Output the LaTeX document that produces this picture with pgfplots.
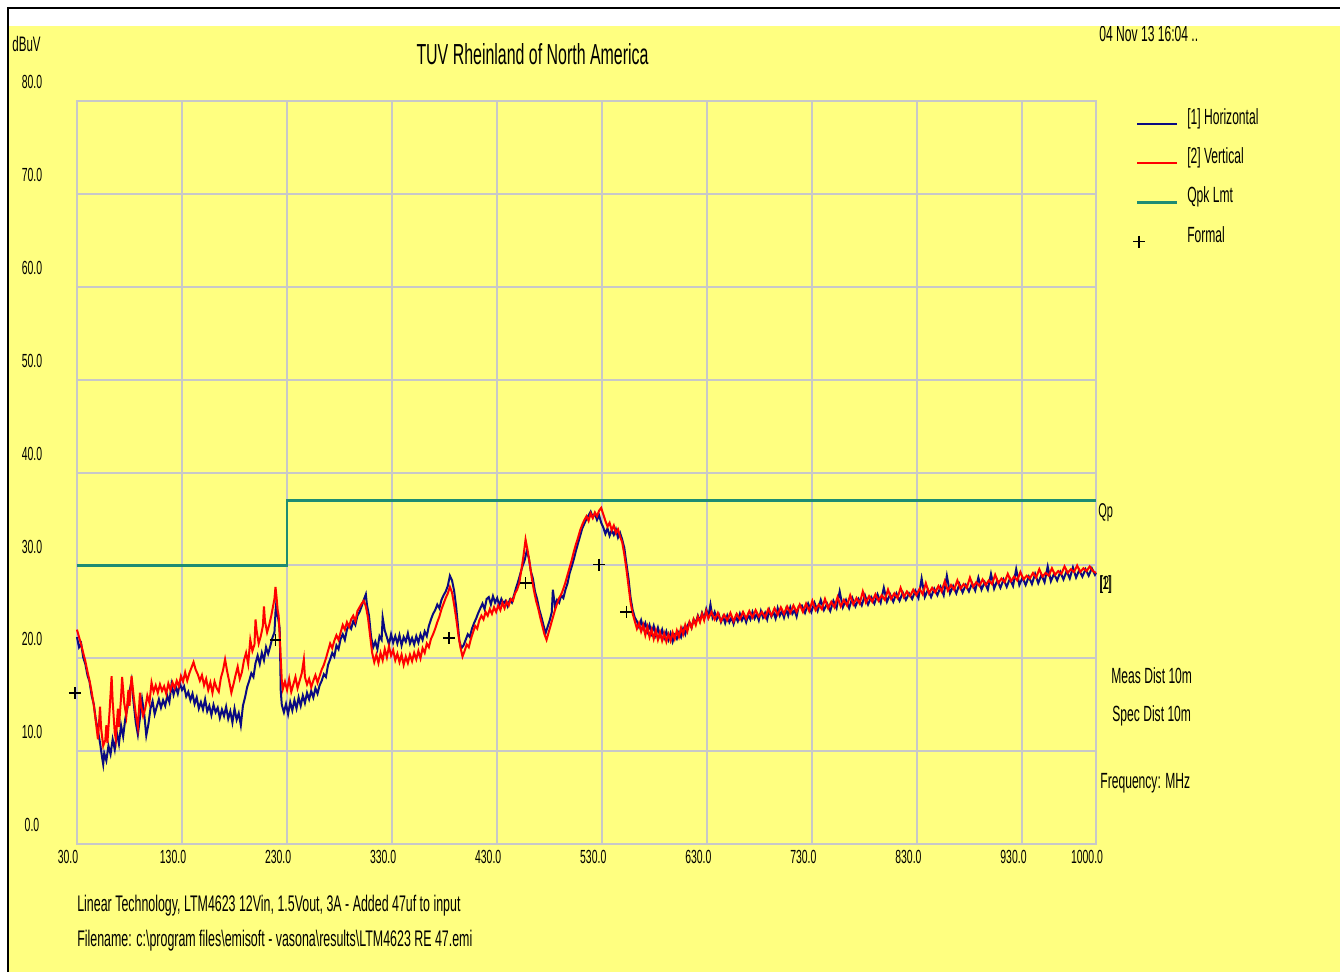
\documentclass[border=0pt]{standalone}
\usepackage{fontspec}
\setmainfont{Liberation Sans}[FakeStretch=0.55]
\usepackage{pgfplots}
\pgfplotsset{compat=1.18}
\definecolor{bgyellow}{RGB}{255,255,128}
\definecolor{hblue}{RGB}{10,10,130}
\definecolor{vred}{RGB}{255,0,0}
\definecolor{lmt}{RGB}{30,140,115}
\definecolor{gridgray}{RGB}{200,200,200}
\newcommand{\fs}[1]{\fontsize{#1}{#1}\selectfont}
\pgfplotsset{formal legend/.style={legend image code/.code={\draw[##1] plot coordinates {(1pt,-3pt)};}}}
\begin{document}
\begin{tikzpicture}
\fill[white] (0,0) rectangle (670.5pt,486.5pt);
\fill[bgyellow] (4.5pt,0) rectangle (670.5pt,473.5pt);
\node[anchor=west,font=\fs{11},inner sep=0pt] at (550pt,469.5pt) {04 Nov 13 16:04 ..};
\fill[white] (4.5pt,473.5pt) rectangle (670.5pt,482pt);
\draw[black,line width=1.2pt] (4pt,0) -- (4pt,482.5pt) -- (670.5pt,482.5pt);
\node[font=\fs{14.5}] at (266.5pt,459.5pt) {TUV Rheinland of North America};
\node[anchor=west,font=\fs{10.5},inner sep=0pt] at (6pt,464.5pt) {dBuV};
\node[anchor=west,font=\fs{10},inner sep=0pt] at (549.5pt,230pt) {Qp};
\node[anchor=west,font=\fs{9.5},inner sep=0pt] at (550pt,194pt) {[1]};
\node[anchor=west,font=\fs{9.5},inner sep=0pt] at (550.5pt,194pt) {[2]};
\node[anchor=west,font=\fs{11},inner sep=0pt] at (556pt,148.5pt) {Meas Dist 10m};
\node[anchor=west,font=\fs{11},inner sep=0pt] at (556.5pt,128.5pt) {Spec Dist 10m};
\node[anchor=west,font=\fs{11},inner sep=0pt] at (550.5pt,94.5pt) {Frequency: MHz};
\node[anchor=west,font=\fs{11.3},inner sep=0pt] at (38.5pt,33.5pt) {Linear Technology, LTM4623 12Vin, 1.5Vout, 3A - Added 47uf to input};
\node[anchor=west,font=\fs{11.3},inner sep=0pt] at (38.5pt,15.5pt) {Filename: c:\textbackslash program files\textbackslash emisoft - vasona\textbackslash results\textbackslash LTM4623 RE 47.emi};
\begin{axis}[
  at={(38.5pt,64pt)}, anchor=south west,
  scale only axis, width=510pt, height=372pt,
  xmin=30, xmax=1000, ymin=0, ymax=80,
  xtick={30,130,230,330,430,530,630,730,830,930,1000},
  xticklabels={30.0,130.0,230.0,330.0,430.0,530.0,630.0,730.0,830.0,930.0,1000.0},
  ytick={0,10,20,30,40,50,60,70,80},
  yticklabels={0.0,10.0,20.0,30.0,40.0,50.0,60.0,70.0,80.0},
  grid=major,
  major grid style={draw=gridgray, line width=1pt},
  axis line style={draw=gridgray, line width=1pt},
  major tick length=0pt,
  tick label style={font=\fs{9.5}},
  xticklabel style={anchor=center, yshift=-6.5pt, xshift=-4.5pt},
  yticklabel style={anchor=center, xshift=-22.5pt, yshift=9.5pt},
  clip=false,
  legend style={at={(1.036,0.996)}, anchor=north west, draw=none, fill=none, font=\fs{11}, row sep=6.2pt, inner sep=0pt, /tikz/every odd column/.append style={column sep=2.5pt}},
  legend cell align=left,
  legend image code/.code={\draw[mark repeat=2,mark phase=2,#1] plot coordinates {(0pt,-3pt)(10pt,-3pt)(20pt,-3pt)};},
]
\addplot[hblue, line width=1pt] coordinates {
(30,22.3)(32,21.2)(34,21.6)(36,20.1)(38,19.4)(40,18.2)(42,17.5)(44,16.0)(46,15.1)(48,13.4)(50,12.2)(52,10.9)(54,9.3)(55,8.6)(56,9.8)(58,9.0)(60,10.6)(62,9.7)(64,11.3)(66,10.2)(68,12.0)(70,10.8)(72,12.8)(74,11.6)(76,13.5)(78,14.6)(80,16.4)(82,17.6)(84,15.2)(86,13.1)(88,11.8)(90,13.6)(92,15.6)(94,14.1)(96,11.7)(98,12.9)(100,14.6)(102,15.4)(104,14.0)(106,14.8)(108,15.6)(110,14.7)(112,15.5)(114,14.9)(116,16.0)(118,15.3)(120,17.2)(122,16.1)(124,17.0)(126,16.2)(128,17.3)(130,16.6)(132,17.0)(134,15.9)(136,16.4)(138,15.5)(140,16.2)(142,15.1)(144,15.8)(146,14.6)(148,15.3)(150,14.5)(152,15.6)(154,14.3)(156,14.9)(158,13.9)(160,15.0)(162,14.2)(164,14.7)(166,13.6)(168,14.5)(170,13.8)(172,14.8)(174,13.5)(176,14.3)(178,13.1)(180,14.6)(182,13.4)(184,14.1)(186,12.8)(188,14.9)(190,15.8)(192,16.9)(194,17.6)(196,18.4)(198,18.0)(200,19.5)(202,20.3)(204,19.4)(206,20.6)(208,19.8)(210,21.2)(212,20.5)(214,21.3)(216,22.2)(218,22.8)(219,25.0)(220,26.3)(221,24.6)(222,24.0)(223,23.2)(224,16.5)(225,15.0)(227,14.2)(229,15.1)(231,14.0)(233,15.3)(235,14.4)(237,15.5)(239,14.6)(241,15.8)(243,14.9)(245,16.0)(247,15.2)(249,16.3)(251,15.6)(253,16.5)(255,15.8)(257,16.8)(259,16.2)(261,17.1)(263,17.6)(265,18.3)(267,18.0)(269,19.3)(271,19.9)(273,20.6)(275,20.2)(277,21.4)(279,21.0)(281,22.1)(283,22.6)(285,22.0)(287,23.1)(289,23.6)(291,23.2)(293,24.0)(295,23.6)(297,24.6)(299,25.0)(301,25.6)(303,26.3)(305,26.9)(306,25.8)(308,24.6)(310,22.3)(312,21.2)(314,21.8)(316,21.0)(318,22.4)(320,22.0)(321,24.4)(323,23.0)(325,22.3)(327,21.5)(329,22.6)(331,21.7)(333,22.4)(335,21.6)(337,22.5)(339,21.4)(341,22.3)(343,21.8)(345,22.7)(347,21.6)(349,22.2)(351,21.5)(353,22.4)(355,21.7)(357,22.6)(359,22.0)(361,22.9)(363,22.4)(365,23.5)(367,24.2)(369,24.8)(371,25.2)(373,25.8)(375,25.4)(377,26.3)(379,26.8)(381,27.2)(383,27.8)(385,28.9)(387,28.4)(389,27.3)(391,25.5)(392,24.3)(394,21.9)(396,21.1)(398,21.4)(400,22.0)(402,22.6)(404,22.3)(406,23.2)(408,23.8)(410,24.3)(412,24.9)(414,25.4)(416,25.9)(418,25.3)(420,26.4)(422,26.6)(424,25.8)(426,26.7)(428,26.0)(430,26.5)(432,25.7)(434,26.4)(436,25.9)(438,26.2)(440,25.6)(442,26.3)(444,26.0)(446,26.8)(448,27.6)(450,28.3)(452,29.1)(454,29.9)(456,30.5)(458,31.5)(460,30.9)(462,29.4)(464,28.6)(466,27.2)(468,26.4)(470,25.3)(472,24.5)(474,23.6)(476,22.7)(478,23.4)(480,24.1)(482,25.0)(483,27.4)(485,25.6)(487,26.3)(489,26.0)(491,26.8)(493,26.5)(495,27.4)(497,28.1)(499,29.2)(501,29.9)(503,30.7)(505,31.6)(507,32.4)(509,33.2)(511,34.0)(513,34.5)(515,35.0)(517,35.4)(519,35.8)(521,35.2)(523,35.6)(525,34.9)(527,35.4)(529,34.6)(531,34.1)(533,33.4)(535,34.0)(537,33.2)(539,33.8)(541,33.3)(543,33.9)(545,33.0)(547,33.5)(549,32.8)(551,31.9)(553,30.2)(555,28.6)(557,26.5)(559,25.2)(561,24.4)(563,24.0)(565,23.4)(567,24.1)(569,23.2)(571,23.8)(573,22.9)(575,23.6)(577,22.7)(579,23.5)(581,22.5)(583,23.3)(585,22.4)(587,23.1)(589,22.2)(591,22.9)(593,22.0)(595,22.7)(597,21.8)(599,22.5)(601,22.1)(603,22.8)(605,22.3)(607,23.2)(609,22.6)(611,23.5)(613,23.9)(615,23.3)(617,24.2)(619,23.8)(621,24.6)(623,24.0)(625,24.9)(627,24.3)(629,25.3)(631,24.5)(633,25.8)(635,24.4)(637,25.0)(639,24.2)(641,24.7)(643,23.9)(645,24.5)(647,23.8)(649,24.6)(651,23.9)(653,24.4)(655,23.7)(657,24.5)(659,24.0)(661,24.8)(663,24.1)(665,24.6)(667,23.9)(669,24.7)(671,24.2)(673,25.0)(675,24.3)(677,24.8)(679,24.1)(681,25.1)(683,24.4)(685,24.9)(687,24.2)(689,25.2)(691,24.5)(693,25.0)(695,24.3)(697,25.4)(699,24.6)(701,25.1)(703,24.4)(705,25.3)(707,24.6)(709,25.5)(711,24.8)(713,25.2)(715,24.5)(717,25.6)
(720,25.7)(723,24.9)(726,25.9)(729,25.0)(732,26.0)(735,25.1)(738,26.3)(741,25.2)(744,25.9)(747,25.1)(750,26.2)(753,25.4)(756,27.2)(759,25.5)(762,26.3)(765,25.4)(768,26.5)(771,25.6)(774,26.4)(777,25.7)(780,26.8)(783,25.8)(786,26.6)(789,25.9)(792,26.9)(795,26.0)(798,27.6)(801,26.1)(804,26.9)(807,26.1)(810,27.0)(813,26.2)(816,27.1)(819,26.3)(822,27.0)(825,26.4)(828,27.3)(831,26.5)(834,28.6)(837,26.6)(840,27.4)(843,26.6)(846,27.5)(849,26.8)(852,27.7)(855,26.8)(858,28.9)(861,27.0)(864,27.8)(867,27.0)(870,28.0)(873,27.1)(876,27.9)(879,27.2)(882,28.1)(885,27.3)(888,28.7)(891,27.4)(894,28.2)(897,27.4)(900,29.1)(903,27.5)(906,28.4)(909,27.6)(912,28.5)(915,27.7)(918,28.6)(921,27.8)(924,29.6)(927,27.9)(930,28.7)(933,27.9)(936,28.8)(939,28.0)(942,29.1)(945,28.1)(948,29.0)(951,28.2)(954,29.9)(957,28.3)(960,29.1)(963,28.4)(966,29.3)(969,28.5)(972,29.4)(975,28.6)(978,29.8)(981,28.7)(984,29.5)(987,28.8)(990,29.6)(993,28.9)(996,29.7)(999,29.0)(1000,29.2)
};
\addlegendentry{[1] Horizontal}
\addplot[vred, line width=1pt] coordinates {
(30,23.1)(32,22.3)(34,21.5)(36,20.6)(38,19.7)(40,18.6)(42,17.6)(44,16.4)(46,15.0)(48,13.2)(50,11.3)(51,13.0)(52,14.8)(53,12.5)(55,10.6)(57,11.2)(58,12.8)(59,10.9)(61,14.2)(63,18.1)(64,15.4)(66,12.0)(67,11.3)(69,14.6)(70,12.6)(72,15.8)(73,18.0)(75,15.2)(77,13.8)(79,16.6)(80,14.9)(82,18.1)(84,15.9)(86,14.0)(88,12.6)(90,16.3)(91,15.0)(93,13.8)(95,14.6)(97,16.0)(99,15.2)(101,17.4)(103,16.4)(105,17.1)(107,16.3)(109,17.2)(111,16.5)(113,17.0)(115,16.2)(117,17.3)(119,16.6)(121,17.4)(123,16.8)(125,17.6)(127,17.0)(129,18.1)(131,17.5)(133,18.5)(135,17.6)(137,18.4)(139,19.0)(141,19.6)(143,18.8)(145,18.3)(147,17.6)(149,18.2)(151,17.1)(153,17.8)(155,16.6)(157,17.4)(159,16.3)(161,17.5)(163,16.8)(165,16.4)(167,17.9)(169,18.7)(171,19.9)(173,18.6)(175,17.5)(177,16.3)(179,17.2)(181,18.2)(183,19.1)(185,17.8)(187,18.5)(189,19.8)(191,20.6)(193,19.4)(195,22.0)(197,20.8)(199,21.5)(200,24.2)(201,23.0)(203,21.6)(205,22.4)(207,23.5)(208,25.6)(209,24.0)(211,22.8)(213,23.6)(215,24.6)(217,25.8)(218,26.4)(219,27.7)(220,26.6)(221,25.2)(222,24.6)(223,22.4)(224,20.0)(225,17.6)(226,16.7)(228,17.5)(230,16.6)(232,17.8)(234,16.4)(236,17.2)(238,18.0)(240,16.8)(242,17.6)(244,18.4)(246,19.9)(247,18.0)(249,17.2)(251,17.8)(253,16.9)(255,17.6)(257,18.2)(259,17.4)(261,18.1)(263,18.8)(265,19.3)(267,20.0)(269,20.8)(271,21.6)(273,21.1)(275,21.9)(277,22.5)(279,22.0)(281,22.8)(283,23.6)(285,23.1)(287,23.9)(289,23.4)(291,24.2)(293,24.6)(295,24.0)(297,25.1)(299,25.5)(301,25.9)(303,26.2)(305,25.6)(307,24.4)(309,22.5)(311,20.6)(313,19.6)(315,20.4)(317,19.5)(319,20.6)(321,19.8)(323,21.0)(325,20.1)(327,21.3)(329,20.3)(331,20.9)(333,19.8)(335,20.5)(337,19.6)(339,20.4)(341,19.3)(343,20.2)(345,19.5)(347,20.4)(349,19.7)(351,20.6)(353,19.9)(355,20.8)(357,20.0)(359,21.1)(361,20.6)(363,21.6)(365,21.2)(367,22.1)(369,22.6)(371,23.2)(373,23.9)(375,24.5)(377,25.3)(379,25.9)(381,26.5)(383,27.0)(385,27.7)(387,27.1)(389,25.8)(391,24.3)(393,22.6)(395,21.2)(397,20.2)(399,20.8)(401,21.5)(403,21.2)(405,22.1)(407,22.8)(409,23.5)(411,23.2)(413,24.1)(415,24.6)(417,24.2)(419,25.0)(421,24.6)(423,25.3)(425,24.8)(427,25.5)(429,25.0)(431,25.7)(433,25.2)(435,26.0)(437,25.4)(439,26.1)(441,25.7)(443,26.4)(445,26.2)(447,27.0)(449,27.4)(451,28.1)(453,29.5)(455,31.0)(457,32.8)(459,31.6)(461,30.2)(463,28.6)(465,27.3)(467,26.2)(469,25.4)(471,24.4)(473,23.5)(475,22.6)(477,22.0)(479,22.8)(481,23.6)(483,24.4)(485,25.2)(487,25.9)(489,26.5)(491,26.9)(493,27.5)(495,28.2)(497,29.0)(499,29.8)(501,30.6)(503,31.5)(505,32.3)(507,33.0)(509,33.8)(511,34.4)(513,34.9)(515,35.3)(517,34.8)(519,35.6)(521,35.1)(523,35.7)(525,35.3)(527,35.9)(529,36.2)(531,35.5)(533,34.8)(535,34.2)(537,34.6)(539,33.8)(541,34.3)(543,33.5)(545,33.9)(547,33.1)(549,32.5)(551,31.2)(553,29.6)(555,27.8)(557,26.0)(559,24.8)
(561,24.0)(563,23.2)(565,23.8)(567,22.9)(569,23.6)(571,22.5)(573,23.4)(575,22.3)(577,23.1)(579,22.1)(581,23.0)(583,22.0)(585,22.8)(587,21.9)(589,22.7)(591,21.8)(593,22.6)(595,21.9)(597,22.8)(599,22.1)(601,23.0)(603,22.3)(605,23.3)(607,22.6)(609,23.6)(611,22.9)(613,23.9)(615,23.3)(617,24.2)(619,23.6)(621,24.5)(623,23.9)(625,24.8)(627,24.1)(629,25.1)(631,24.3)(634,25.0)(637,24.2)(640,24.9)(643,24.0)(646,24.7)(649,24.1)(652,24.9)(655,24.0)(658,24.8)(661,24.2)(664,25.0)(667,24.3)(670,25.1)(673,24.4)(676,25.2)(679,24.5)(682,25.0)(685,24.4)(688,25.3)(691,24.6)(694,25.4)(697,24.7)(700,25.5)(703,24.8)(706,25.6)(709,24.9)(712,25.7)(715,25.0)(718,25.8)
(721,25.0)(724,25.9)(727,25.1)(730,26.2)(733,25.2)(736,25.8)(739,25.3)(742,26.4)(745,25.4)(748,26.1)(751,25.5)(754,26.6)(757,25.6)(760,26.3)(763,25.7)(766,26.8)(769,25.8)(772,26.5)(775,25.9)(778,27.2)(781,26.0)(784,26.7)(787,26.1)(790,26.9)(793,26.2)(796,26.8)(799,26.3)(802,27.4)(805,26.4)(808,27.0)(811,26.5)(814,27.6)(817,26.6)(820,27.2)(823,26.7)(826,27.4)(829,26.8)(832,27.5)(835,26.9)(838,28.1)(841,27.0)(844,27.6)(847,27.1)(850,27.8)(853,27.2)(856,28.3)(859,27.3)(862,27.9)(865,27.4)(868,28.4)(871,27.5)(874,28.0)(877,27.6)(880,28.7)(883,27.7)(886,28.2)(889,27.8)(892,28.5)(895,27.9)(898,28.4)(901,28.0)(904,29.0)(907,28.1)(910,28.6)(913,28.2)(916,29.1)(919,28.3)(922,28.8)(925,28.4)(928,29.3)(931,28.5)(934,28.9)(937,28.6)(940,29.2)(943,28.7)(946,29.6)(949,28.8)(952,29.2)(955,28.9)(958,29.7)(961,29.0)(964,29.4)(967,29.1)(970,29.9)(973,29.2)(976,29.6)(979,29.3)(982,30.0)(985,29.3)(988,29.7)(991,29.4)(994,29.9)(997,29.4)(1000,29.2)
};
\addlegendentry{[2] Vertical}
\addplot[lmt, line width=1.2pt] coordinates {(30,30)(230,30)(230,37)(1000,37)};
\addlegendentry{Qpk Lmt}
\addplot[only marks, mark=+, mark size=3pt, black, line width=0.8pt, formal legend]
  coordinates {(28,16.3)(219,22.0)(384,22.2)(457,28.1)(527,30.1)(553,25.0)};
\addlegendentry{Formal}
\end{axis}
\end{tikzpicture}
\end{document}
